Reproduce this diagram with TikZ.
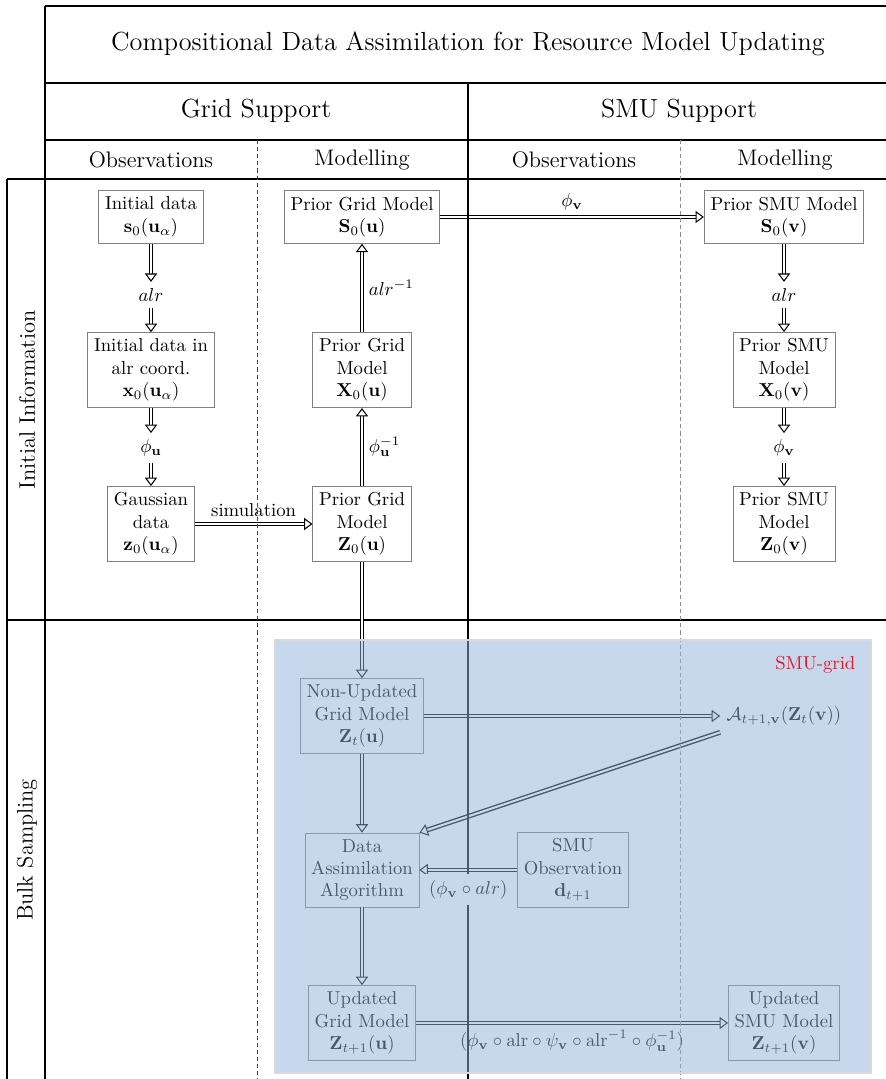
\documentclass[tikz,border=0pt]{standalone}
\usepackage{amsmath, amssymb}
\usetikzlibrary{arrows.meta, positioning}

\definecolor{smublue}{RGB}{144,177,219}
\definecolor{smured}{RGB}{235,20,40}

\tikzset{
  box/.style={draw=gray, line width=0.4pt, align=center},
  dbl/.style={double, line width=0.75pt, double distance=1.1pt,
    -{Triangle[open, length=4.5pt, width=6.5pt, line width=0.55pt]}},
  tbl/.style={line width=1pt},
  sep/.style={dash pattern=on 2.2pt off 1.6pt, line width=0.4pt},
  hdr/.style={font=\large},
  bighdr/.style={font=\fontsize{14}{17}\selectfont},
}

\begin{document}
\begin{tikzpicture}[x=0.5346pt, y=-0.5346pt]
      \useasboundingbox (0,0) rectangle (886,1079);
      \clip (0,0) rectangle (886,1079);

      % table
      \draw[tbl] (45,6) -- (890,6);
      \draw[tbl] (45,83) -- (890,83);
      \draw[tbl] (45,140) -- (890,140);
      \draw[tbl] (7,179) -- (890,179);
      \draw[tbl] (7,620) -- (890,620);
      \draw[tbl] (7,179) -- (7,1085);
      \draw[tbl] (45,6) -- (45,1085);
      \draw[tbl] (890,6) -- (890,1085);

      \node[bighdr] (title) at (468,44) {Compositional Data Assimilation for Resource Model Updating};
      \node[bighdr] (gridsup) at (256,111) {Grid Support};
      \node[bighdr] (smusup) at (679,111) {SMU Support};
      \node[hdr] (gobs) at (151,160) {Observations};
      \node[hdr] (gmod) at (362,160) {Modelling};
      \node[hdr] (sobs) at (574,160) {Observations};
      \node[hdr] (smod) at (785,160) {Modelling};
      \node[hdr, rotate=90] (info) at (27,400) {Initial Information};
      \node[hdr, rotate=90] (bulk) at (27,850) {Bulk Sampling};

      % initial information
      \node[box] (s0) at (151,217) {Initial data\\$\mathbf{s}_0(\mathbf{u}_\alpha)$};
      \node[box] (S0u) at (362,217) {Prior Grid Model\\$\mathbf{S}_0(\mathbf{u})$};
      \node[box] (S0v) at (784,217) {Prior SMU Model\\$\mathbf{S}_0(\mathbf{v})$};
      \node (alru) at (151,295) {$alr$};
      \node (alrv) at (784,295) {$alr$};
      \node[box] (x0) at (151,370) {Initial data in\\alr coord.\\$\mathbf{x}_0(\mathbf{u}_\alpha)$};
      \node[box] (X0u) at (362,370) {Prior Grid\\Model\\$\mathbf{X}_0(\mathbf{u})$};
      \node[box] (X0v) at (784,370) {Prior SMU\\Model\\$\mathbf{X}_0(\mathbf{v})$};
      \node (phiu) at (151,448) {$\phi_{\mathbf{u}}$};
      \node (phiv) at (784,448) {$\phi_{\mathbf{v}}$};
      \node[box] (z0) at (151,524) {Gaussian\\data\\$\mathbf{z}_0(\mathbf{u}_\alpha)$};
      \node[box] (Z0u) at (362,524) {Prior Grid\\Model\\$\mathbf{Z}_0(\mathbf{u})$};
      \node[box] (Z0v) at (784,524) {Prior SMU\\Model\\$\mathbf{Z}_0(\mathbf{v})$};

      \draw[dbl] (s0) -- (alru);
      \draw[dbl] (alru) -- (x0);
      \draw[dbl] (x0) -- (phiu);
      \draw[dbl] (phiu) -- (z0);
      \draw[dbl] (z0) -- node[above] {simulation} (Z0u);
      \draw[dbl] (Z0u) -- node[right] {$\phi_{\mathbf{u}}^{-1}$} (X0u);
      \draw[dbl] (X0u) -- node[right] {$alr^{-1}$} (S0u);
      \draw[dbl] (S0u) -- node[above] {$\phi_{\mathbf{v}}$} (S0v);
      \draw[dbl] (S0v) -- (alrv);
      \draw[dbl] (alrv) -- (X0v);
      \draw[dbl] (X0v) -- (phiv);
      \draw[dbl] (phiv) -- (Z0v);

      % bulk sampling
      \node[box] (Ztu) at (362,716) {Non-Updated\\Grid Model\\$\mathbf{Z}_t(\mathbf{u})$};
      \node (Atv) at (784,716) {$\mathcal{A}_{t+1,\mathbf{v}}(\mathbf{Z}_t(\mathbf{v}))$};
      \node[box] (daa) at (362,870) {Data\\Assimilation\\Algorithm};
      \node[box] (dt) at (573,870) {SMU\\Observation\\$\mathbf{d}_{t+1}$};
      \node[box] (Zt1u) at (362,1023) {Updated\\Grid Model\\$\mathbf{Z}_{t+1}(\mathbf{u})$};
      \node[box] (Zt1v) at (784,1023) {Updated\\SMU Model\\$\mathbf{Z}_{t+1}(\mathbf{v})$};

      \draw[dbl] (Z0u) -- (Ztu);
      \draw[dbl] (Ztu) -- (Atv);
      \draw[dbl] (Atv.south west) -- (daa.north east);
      \draw[dbl] (Ztu) -- (daa);
      \draw[dbl] (dt) -- (daa);
      \draw[dbl] (daa) -- (Zt1u);
      \draw[dbl] (Zt1u) -- node[below] {$(\phi_{\mathbf{v}}\circ\mathrm{alr}\circ\psi_{\mathbf{v}}\circ\mathrm{alr}^{-1}\circ\phi_{\mathbf{u}}^{-1})$} (Zt1v);

      % column separators
      \draw[tbl] (468,83) -- (468,1085);
      \draw[sep, black!75] (257,140) -- (257,1085);
      \draw[sep, black!45] (680,140) -- (680,1085);
      \path (dt) -- node[below=2pt, fill=white] {$(\phi_{\mathbf{v}}\circ alr)$} (daa);

      % SMU-grid area
      \draw[fill=smublue, fill opacity=0.5, draw=black!15, line width=0.8pt] (275,640) rectangle (871,1073);
      \node[text=smured, anchor=east] (smugrid) at (862,665) {SMU-grid};
\end{tikzpicture}
\end{document}
